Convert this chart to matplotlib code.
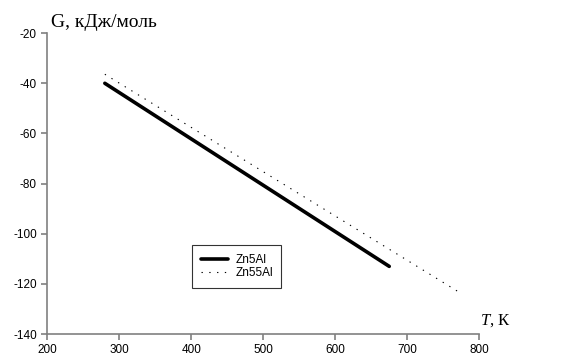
import matplotlib

matplotlib.use("Agg")
import matplotlib.pyplot as plt

# Gibbs energy vs temperature
t_zn5al = [280, 675]
g_zn5al = [-40.0, -113.0]
t_zn55al = [280, 772]
g_zn55al = [-36.4, -123.3]

x_ticks = [200, 300, 400, 500, 600, 700, 800]
y_ticks = [-140, -120, -100, -80, -60, -40, -20]

plt.rcParams["mathtext.fontset"] = "custom"
plt.rcParams["mathtext.it"] = "Liberation Serif:italic"
plt.rcParams["mathtext.rm"] = "Liberation Serif"
plt.rcParams["axes.unicode_minus"] = False

fig = plt.figure(figsize=(5.76, 3.6), dpi=100)
ax = fig.add_axes([0.082, 0.072, 0.75, 0.836])

ax.plot(t_zn5al, g_zn5al, color="black", linewidth=2.6, solid_capstyle="round", label="Zn5Al")
ax.plot(t_zn55al, g_zn55al, color="black", linewidth=0.8, linestyle=(0, (1.2, 5.8)), label="Zn55Al")

ax.set_xlim(200, 800)
ax.set_ylim(-140, -20)
ax.set_xticks(x_ticks)
ax.set_yticks(y_ticks)
for side in ("top", "right"):
    ax.spines[side].set_visible(False)
for side in ("left", "bottom"):
    ax.spines[side].set_color("#808080")
    ax.spines[side].set_linewidth(1.2)
ax.tick_params(direction="out", length=4, color="#808080", width=1.2,
               labelsize=8.5, labelfontfamily="Liberation Sans")

fig.text(0.089, 0.938, "G, кДж/моль", family="Liberation Serif", fontsize=14, va="center")
fig.text(0.833, 0.11, "$T$, К", family="Liberation Serif", fontsize=12, va="center", ha="left")

leg = ax.legend(loc="lower left", bbox_to_anchor=(0.336, 0.154), frameon=True,
                fancybox=False, edgecolor="black", handlelength=2.35, handletextpad=0.6,
                borderpad=0.7, labelspacing=0.15, borderaxespad=0,
                prop={"family": "Liberation Sans", "size": 8.5})
leg.get_frame().set_linewidth(0.8)

fig.savefig("out.png", dpi=100)
